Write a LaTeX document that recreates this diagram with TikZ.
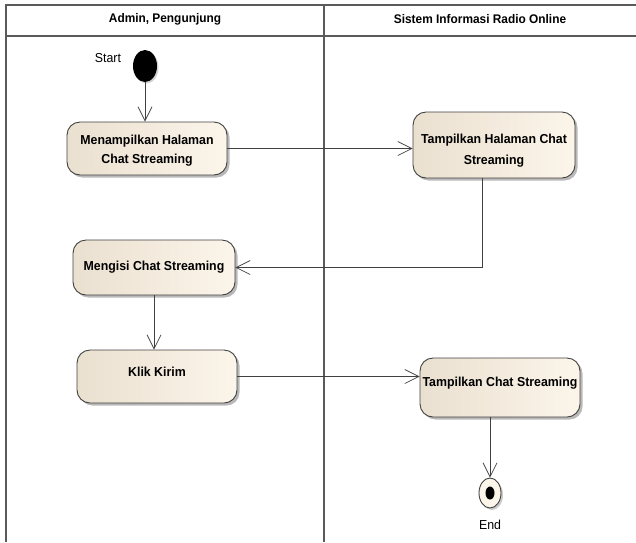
\documentclass[tikz,border=0pt]{standalone}
\usepackage{fontspec}
\setmainfont{Liberation Sans}[FakeStretch=0.95]
\usetikzlibrary{arrows.meta,shapes.geometric,shadows}
\definecolor{actfillL}{RGB}{234,224,208}
\definecolor{actfillR}{RGB}{252,245,234}
\definecolor{actline}{RGB}{64,64,64}
\definecolor{laneline}{RGB}{90,90,90}
\tikzset{
  act/.style={draw=actline, line width=0.9pt, rounded corners=13pt,
    left color=actfillL, right color=actfillR,
    drop shadow={shadow xshift=2.5pt, shadow yshift=-2.5pt, opacity=0.55},
    font=\fontsize{13}{19}\selectfont\bfseries, align=center, inner sep=1pt},
  flow/.style={draw=actline, line width=0.7pt,
    -{Straight Barb[length=14pt,width=14pt,line width=0.7pt]}},
  lane/.style={draw=laneline, line width=1.6pt},
  lanetitle/.style={font=\fontsize{12.5}{14}\selectfont\bfseries},
  caption/.style={font=\fontsize{13}{15}\selectfont}
}
\begin{document}
\begin{tikzpicture}[x=1pt,y=-1pt]
\useasboundingbox (0,0) rectangle (636,542);
% swimlane frame
\draw[lane] (6,542) -- (6,5) -- (640,5);
\draw[lane] (6,36) -- (640,36);
\draw[lane] (324,5) -- (324,542);
\node[lanetitle] (laneA) at (165,19) {Admin, Pengunjung};
\node[lanetitle] (laneB) at (480,19) {Sistem Informasi Radio Online};
% initial node
\node[ellipse, fill=black, minimum width=24pt, minimum height=32pt, inner sep=0pt,
  drop shadow={shadow xshift=1.5pt, shadow yshift=-1.5pt, opacity=0.35}] (start) at (145,66) {};
\node[caption] (startlbl) at (108,58) {Start};
% activities
\node[act, minimum width=160pt, minimum height=53pt] (n1) at (147,148.5)
  {\rule{0pt}{14pt}Menampilkan Halaman\\Chat Streaming};
\node[act, minimum width=162pt, minimum height=66pt] (n2) at (494,145)
  {\rule{0pt}{20pt}Tampilkan Halaman Chat\\[2pt]Streaming};
\node[act, minimum width=162pt, minimum height=55pt] (n3) at (154,267.5)
  {Mengisi Chat Streaming};
\node[act, minimum width=160pt, minimum height=53pt, text depth=10pt] (n4) at (157,376.5)
  {Klik Kirim};
\node[act, minimum width=160pt, minimum height=59pt, text depth=12pt] (n5) at (500,387.5)
  {Tampilkan Chat Streaming};
% final node
\node[ellipse, draw=actline, line width=0.9pt, fill=actfillR, minimum width=22pt,
  minimum height=30pt, inner sep=0pt,
  drop shadow={shadow xshift=2pt, shadow yshift=-2pt, opacity=0.4}] (end) at (490,493) {};
\node[ellipse, fill=black, minimum width=9pt, minimum height=13pt, inner sep=0pt] (enddot) at (end) {};
\node[caption] (endlbl) at (490,525) {End};
% control flows
\draw[flow] (start) -- (n1.north -| start);
\draw[flow] (n1.east) -- (n1.east -| n2.west);
\draw[flow] ([xshift=-12pt]n2.south) |- (n3.east);
\draw[flow] (n3.south) -- (n3.south |- n4.north);
\draw[flow] (n4.east) -- (n4.east -| n5.west);
\draw[flow] (n5.south -| end) -- (end.north);
\end{tikzpicture}
\end{document}
